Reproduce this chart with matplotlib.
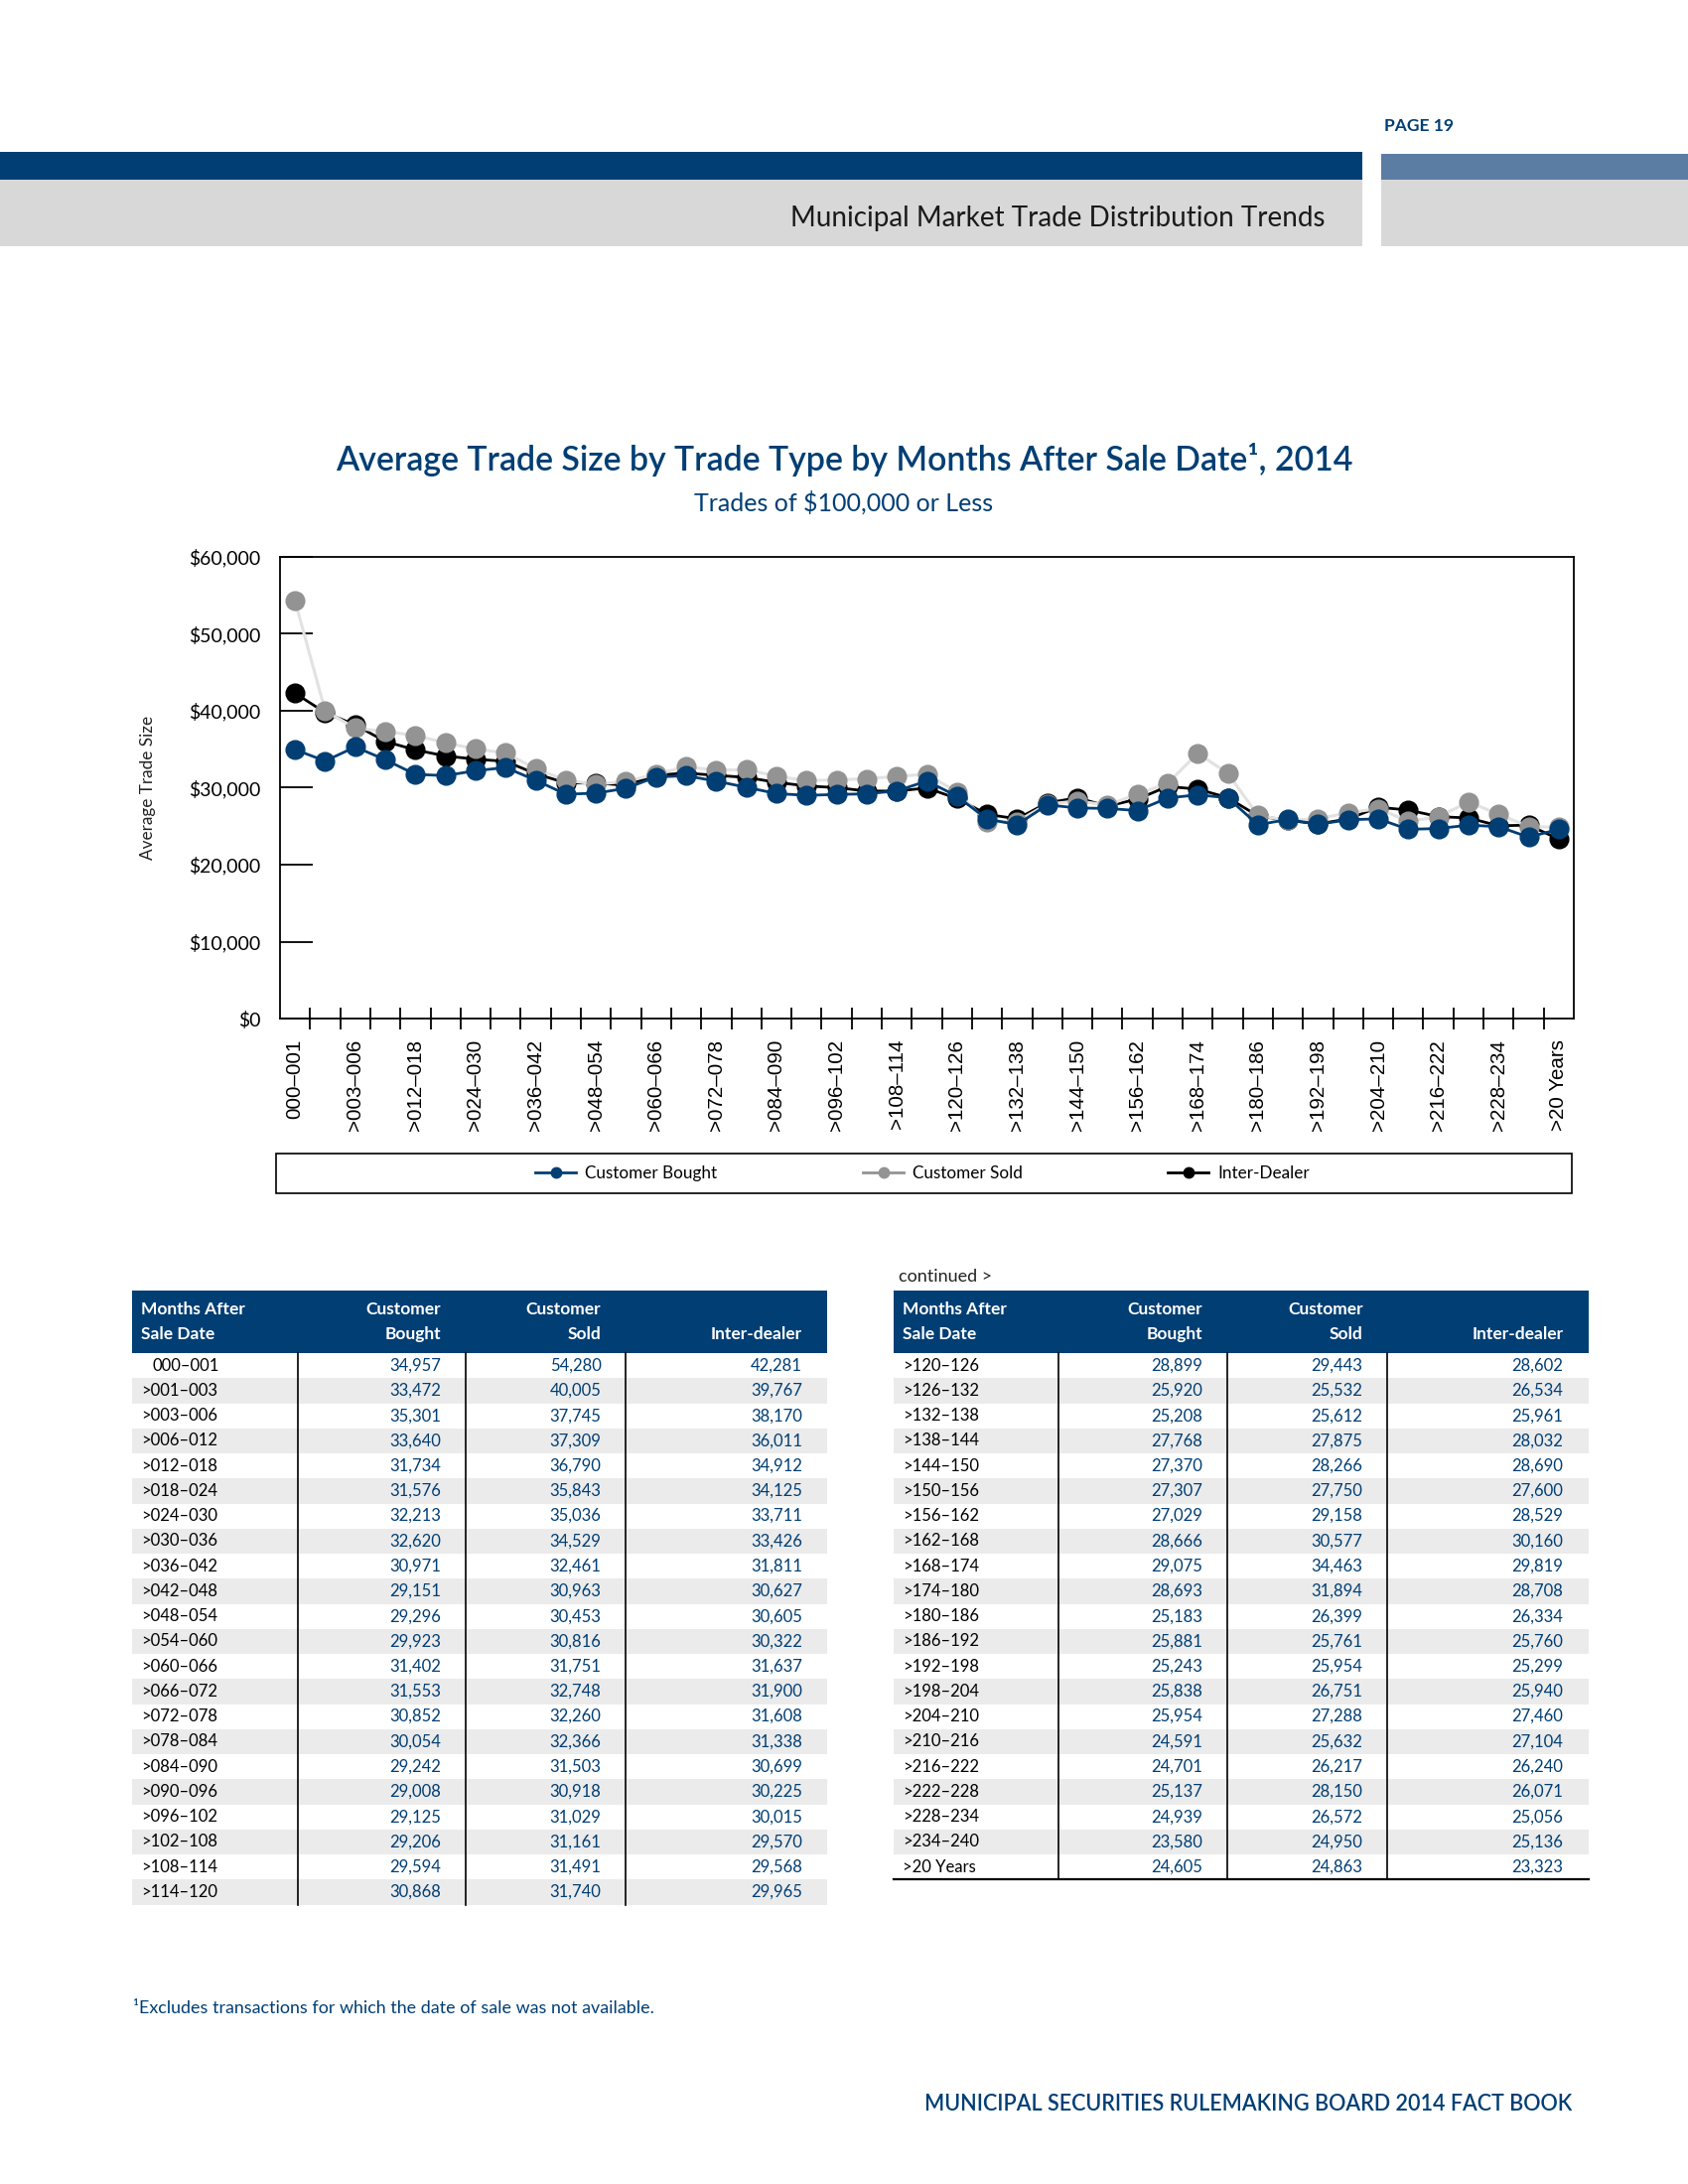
import matplotlib
matplotlib.use("Agg")
import matplotlib.pyplot as plt
from matplotlib.patches import Rectangle
from matplotlib.lines import Line2D
from matplotlib.ticker import FixedLocator, NullFormatter

plt.rcParams['font.family'] = ['Lato', 'DejaVu Sans']

# ---------------- data ----------------
categories = ["000–001", ">001–003", ">003–006", ">006–012", ">012–018", ">018–024",
              ">024–030", ">030–036", ">036–042", ">042–048", ">048–054", ">054–060",
              ">060–066", ">066–072", ">072–078", ">078–084", ">084–090", ">090–096",
              ">096–102", ">102–108", ">108–114", ">114–120", ">120–126", ">126–132",
              ">132–138", ">138–144", ">144–150", ">150–156", ">156–162", ">162–168",
              ">168–174", ">174–180", ">180–186", ">186–192", ">192–198", ">198–204",
              ">204–210", ">210–216", ">216–222", ">222–228", ">228–234", ">234–240",
              ">20 Years"]
customer_bought = [34957, 33472, 35301, 33640, 31734, 31576, 32213, 32620, 30971, 29151,
                   29296, 29923, 31402, 31553, 30852, 30054, 29242, 29008, 29125, 29206,
                   29594, 30868, 28899, 25920, 25208, 27768, 27370, 27307, 27029, 28666,
                   29075, 28693, 25183, 25881, 25243, 25838, 25954, 24591, 24701, 25137,
                   24939, 23580, 24605]
customer_sold = [54280, 40005, 37745, 37309, 36790, 35843, 35036, 34529, 32461, 30963,
                 30453, 30816, 31751, 32748, 32260, 32366, 31503, 30918, 31029, 31161,
                 31491, 31740, 29443, 25532, 25612, 27875, 28266, 27750, 29158, 30577,
                 34463, 31894, 26399, 25761, 25954, 26751, 27288, 25632, 26217, 28150,
                 26572, 24950, 24863]
inter_dealer = [42281, 39767, 38170, 36011, 34912, 34125, 33711, 33426, 31811, 30627,
                30605, 30322, 31637, 31900, 31608, 31338, 30699, 30225, 30015, 29570,
                29568, 29965, 28602, 26534, 25961, 28032, 28690, 27600, 28529, 30160,
                29819, 28708, 26334, 25760, 25299, 25940, 27460, 27104, 26240, 26071,
                25056, 25136, 23323]
series_names = ["Customer Bought", "Customer Sold", "Inter-Dealer"]
y_ticks = [0, 10000, 20000, 30000, 40000, 50000, 60000]
y_tick_labels = ["$0", "$10,000", "$20,000", "$30,000", "$40,000", "$50,000", "$60,000"]
table_headers = [("Months After", "Sale Date"), ("Customer", "Bought"),
                 ("Customer", "Sold"), ("", "Inter-dealer")]
left_rows = 22

# ---------------- styling ----------------
W, H = 1700, 2200
NAVY = "#003e74"
GRAY_MK = "#939393"
GRAY_LN = "#e2e2e2"
ROW_GRAY = "#ebebeb"

def fx(x):
    return x / W

def fy(y):
    return 1 - y / H

fig = plt.figure(figsize=(17, 22), dpi=100)

# ---------------- page header ----------------
fig.patches.append(Rectangle((fx(0), fy(181)), fx(1372), 28 / H, transform=fig.transFigure,
                             facecolor=NAVY, edgecolor='none'))
fig.patches.append(Rectangle((fx(1391), fy(181)), fx(1700 - 1391), 26 / H, transform=fig.transFigure,
                             facecolor="#5b7ca3", edgecolor='none'))
fig.patches.append(Rectangle((fx(0), fy(248)), fx(1372), 67 / H, transform=fig.transFigure,
                             facecolor="#d8d8d8", edgecolor='none'))
fig.patches.append(Rectangle((fx(1391), fy(248)), fx(1700 - 1391), 67 / H, transform=fig.transFigure,
                             facecolor="#d8d8d8", edgecolor='none'))
fig.text(fx(1394), fy(127), "PAGE 19", ha='left', va='center', fontsize=12.5,
         fontweight='bold', color=NAVY)
fig.text(fx(1334), fy(220), "Municipal Market Trade Distribution Trends", ha='right',
         va='center', fontsize=20, fontweight='normal', color="#1a1a1a")

# ---------------- chart titles ----------------
fig.text(0.5, fy(463), "Average Trade Size by Trade Type by Months After Sale Date¹, 2014",
         ha='center', va='center', fontsize=24.4, fontweight='semibold', color=NAVY)
fig.text(0.5, fy(506), "Trades of $100,000 or Less", ha='center', va='center',
         fontsize=18, fontweight='normal', color=NAVY)

# ---------------- chart ----------------
ax = fig.add_axes([fx(282), fy(1026), (1585 - 282) / W, (1026 - 561) / H])
xs = [i + 0.5 for i in range(len(categories))]
ax.plot(xs, inter_dealer, color='black', lw=2, marker='o', ms=13.5, mfc='black',
        mec='black', label=series_names[2], zorder=3)
ax.plot(xs, customer_sold, color=GRAY_LN, lw=2.2, marker='o', ms=13.5, mfc=GRAY_MK,
        mec=GRAY_MK, label=series_names[1], zorder=4)
ax.plot(xs, customer_bought, color=NAVY, lw=2, marker='o', ms=13.5, mfc=NAVY,
        mec=NAVY, label=series_names[0], zorder=5)

ax.set_xlim(0, len(categories))
ax.set_ylim(y_ticks[0], y_ticks[-1])
ax.set_yticks(y_ticks)
ax.set_yticklabels(y_tick_labels)
ax.tick_params(axis='y', direction='in', length=24, width=1.3, pad=14, labelsize=14,
               colors='black')
ax.set_xticks(xs[::2])
ax.set_xticklabels(categories[::2], rotation=90, ha='center', va='top',
                   fontsize=14.8, family=['Liberation Sans', 'DejaVu Sans'])
ax.tick_params(axis='x', which='major', length=0, pad=15)
ax.xaxis.set_minor_locator(FixedLocator(list(range(1, len(categories)))))
ax.xaxis.set_minor_formatter(NullFormatter())
ax.tick_params(axis='x', which='minor', direction='inout', length=16, width=1.3)
for sp in ax.spines.values():
    sp.set_linewidth(1.3)
    sp.set_color('black')
ax.set_ylabel("Average Trade Size", fontsize=12.3, color='#222222')
ax.yaxis.set_label_coords((157 - 282) / (1585 - 282), 0.5)

# legend box + legend
fig.patches.append(Rectangle((fx(278), fy(1202)), (1583 - 278) / W, 40 / H,
                             transform=fig.transFigure, facecolor='none',
                             edgecolor='black', lw=1.2))
handles = [Line2D([], [], color=NAVY, lw=2, marker='o', ms=7.5, mfc=NAVY, mec=NAVY),
           Line2D([], [], color=GRAY_MK, lw=2, marker='o', ms=7.5, mfc=GRAY_MK, mec=GRAY_MK),
           Line2D([], [], color='black', lw=2, marker='o', ms=7.5, mfc='black', mec='black')]
fig.legend(handles, series_names, loc='center', bbox_to_anchor=(fx(929), fy(1182)),
           ncol=3, frameon=False, fontsize=12.3, handlelength=2.4, handletextpad=0.5,
           columnspacing=8.6)

# ---------------- tables ----------------
ROW_H = 25.25
HEAD_TOP, HEAD_BOT = 1300, 1363
BODY_FS = 12
HEAD_FS = 12.5

def draw_table(rows, x0, x1, vlines, text_x, bottom_line):
    fig.patches.append(Rectangle((fx(x0), fy(HEAD_BOT)), (x1 - x0) / W, (HEAD_BOT - HEAD_TOP) / H,
                                 transform=fig.transFigure, facecolor=NAVY, edgecolor='none'))
    aligns = ['left', 'right', 'right', 'right']
    for (l1, l2), tx, al in zip(table_headers, text_x, aligns):
        if l1:
            fig.text(fx(tx), fy(1319), l1, ha=al, va='center', fontsize=HEAD_FS,
                     fontweight='bold', color='white')
        fig.text(fx(tx), fy(1344), l2, ha=al, va='center', fontsize=HEAD_FS,
                 fontweight='bold', color='white')
    for r, idx in enumerate(rows):
        top = HEAD_BOT + r * ROW_H
        if r % 2 == 1:
            fig.patches.append(Rectangle((fx(x0), fy(top + ROW_H)), (x1 - x0) / W, ROW_H / H,
                                         transform=fig.transFigure, facecolor=ROW_GRAY,
                                         edgecolor='none'))
        yc = top + ROW_H / 2
        lab = categories[idx]
        lx = text_x[0] if lab.startswith('>') else text_x[0] + 11
        fig.text(fx(lx), fy(yc), lab, ha='left', va='center', fontsize=BODY_FS, color='black')
        for val, tx in zip((customer_bought[idx], customer_sold[idx], inter_dealer[idx]),
                           text_x[1:]):
            fig.text(fx(tx), fy(yc), f"{val:,}", ha='right', va='center', fontsize=BODY_FS,
                     color=NAVY)
    end = HEAD_BOT + len(rows) * ROW_H
    for vx in vlines:
        fig.add_artist(Line2D([fx(vx), fx(vx)], [fy(HEAD_BOT), fy(end)],
                              transform=fig.transFigure, color='black', lw=1.2))
    if bottom_line:
        fig.add_artist(Line2D([fx(x0), fx(x1)], [fy(end), fy(end)],
                              transform=fig.transFigure, color='black', lw=1.6))

draw_table(list(range(left_rows)), 133, 833, [300, 469, 630], [142, 444, 605.5, 808], False)
fig.text(fx(905), fy(1286), "continued >", ha='left', va='center', fontsize=13, color='#222222')
draw_table(list(range(left_rows, len(categories))), 900, 1600, [1066, 1236, 1397],
           [909, 1211, 1372.5, 1574.5], True)

# ---------------- footer ----------------
fig.text(fx(134), fy(2023), "¹Excludes transactions for which the date of sale was not available.",
         ha='left', va='center', fontsize=12.9, color=NAVY)
fig.text(fx(1583), fy(2120), "MUNICIPAL SECURITIES RULEMAKING BOARD 2014 FACT BOOK",
         ha='right', va='center', fontsize=15.5, fontweight='semibold', color=NAVY)

fig.savefig("out.png", dpi=100)
